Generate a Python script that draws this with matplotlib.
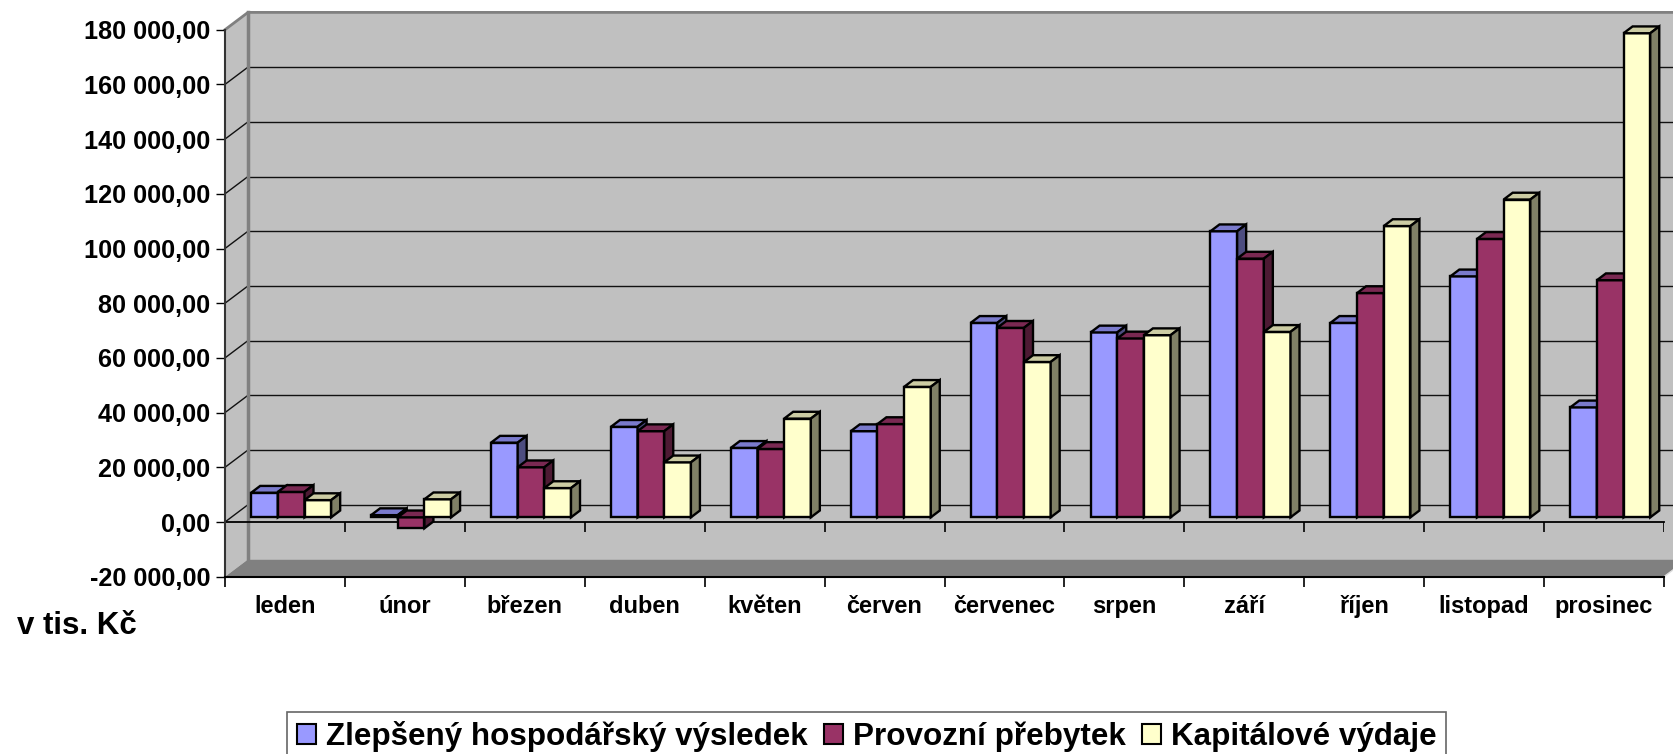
import matplotlib
matplotlib.use("Agg")
import matplotlib.pyplot as plt
from matplotlib.patches import Polygon, Patch
from matplotlib.ticker import FuncFormatter
import matplotlib.colors as mcolors

plt.rcParams['font.family'] = ['Liberation Sans', 'DejaVu Sans']
plt.rcParams['font.weight'] = 'bold'

# ---------------- data ----------------
months = ['leden', 'únor', 'březen', 'duben', 'květen', 'červen', 'červenec',
          'srpen', 'září', 'říjen', 'listopad', 'prosinec']
series_names = ['Zlepšený hospodářský výsledek', 'Provozní přebytek', 'Kapitálové výdaje']
zlepseny_hv = [9000, 800, 27300, 33100, 25400, 31500, 71100, 67600, 104600, 71100, 88100, 40200]
provozni_prebytek = [9300, -4000, 18300, 31500, 25000, 34100, 69300, 65400, 94600, 82000, 101800, 86700]
kapitalove_vydaje = [6300, 6600, 10700, 20100, 36100, 47700, 56800, 66600, 67800, 106500, 116200, 177000]
y_ticks = list(range(-20000, 180001, 20000))
y_label = 'v tis. Kč'
colors = ['#9999FF', '#993366', '#FFFFCC']

series = [zlepseny_hv, provozni_prebytek, kapitalove_vydaje]

# ---------------- layout ----------------
W, H = 1673, 754
fig = plt.figure(figsize=(W / 100, H / 100), dpi=100)
x_px0, x_px1 = 225.0, 1664.0
y_px_top, y_px_bot = 29.7, 576.7
ax = fig.add_axes([x_px0 / W, 1 - y_px_bot / H, (x_px1 - x_px0) / W, (y_px_bot - y_px_top) / H])
ymin, ymax = y_ticks[0], y_ticks[-1]
n = len(months)
ax.set_xlim(0, n)
ax.set_ylim(ymin, ymax)
ax.set_facecolor('none')

px_x = n / (x_px1 - x_px0)            # category units per pixel
px_y = (ymax - ymin) / (y_px_bot - y_px_top)  # value units per pixel

# wall depth
DX = 23 * px_x
DY = 17.3 * px_y
# bar plane
f = 0.27
BX, BY = f * DX, f * DY
# bar depth
ddx, ddy = 9 * px_x, 6.8 * px_y
bw = 0.2224
g0 = (1 - 3 * bw) / 2

wall_c = '#C0C0C0'
floor_c = '#808080'
edge_gray = '#808080'

# back wall
ax.add_patch(Polygon([(DX, ymin + DY), (n + DX, ymin + DY), (n + DX, ymax + DY), (DX, ymax + DY)],
                     closed=True, facecolor=wall_c, edgecolor='none', zorder=0, clip_on=False))
# side wall
ax.add_patch(Polygon([(0, ymin), (DX, ymin + DY), (DX, ymax + DY), (0, ymax)],
                     closed=True, facecolor=wall_c, edgecolor='none', zorder=0, clip_on=False))
# floor
ax.add_patch(Polygon([(0, ymin), (n, ymin), (n + DX, ymin + DY), (DX, ymin + DY)],
                     closed=True, facecolor=floor_c, edgecolor='none', zorder=0.5, clip_on=False))
ax.plot([n, n + DX], [ymin, ymin + DY], color='#E0E0E0', lw=1, zorder=0.6, clip_on=False)

# gridlines
for v in y_ticks[1:-1]:
    ax.plot([DX, n + DX], [v + DY, v + DY], color='#111111', lw=1.0, zorder=1, clip_on=False)
    ax.plot([0, DX], [v, v + DY], color='#111111', lw=1.0, zorder=1, clip_on=False)
# wall edges
ax.plot([0, DX, n + DX], [ymax, ymax + DY, ymax + DY], color=edge_gray, lw=2, zorder=1.2, clip_on=False)
ax.plot([DX, DX], [ymin + DY, ymax + DY], color=edge_gray, lw=2.5, zorder=1.2, clip_on=False)

# zero line in front plane with ticks
tick_len = 9.7 * px_y
ax.plot([0, n], [0, 0], color='black', lw=1.3, zorder=2, clip_on=False)
ax.vlines(range(n + 1), -tick_len, 0, color='black', lw=1.2, zorder=2)


def shade(c, k):
    r, g, b = mcolors.to_rgb(c)
    return (r * k, g * k, b * k)


z = 3
for i in range(n):
    for s, vals in enumerate(series):
        v = vals[i]
        c = colors[s]
        x0 = i + g0 + s * bw + BX
        x1 = x0 + bw
        lo = min(v, 0) + BY
        hi = max(v, 0) + BY
        ax.bar(x0, v, bottom=BY, width=bw, align='edge', color=c, edgecolor='black',
               linewidth=1.7, zorder=z, clip_on=False)
        ax.add_patch(Polygon([(x0, hi), (x1, hi), (x1 + ddx, hi + ddy), (x0 + ddx, hi + ddy)],
                             closed=True, facecolor=shade(c, 0.8), edgecolor='black',
                             linewidth=1.7, zorder=z + 0.1, clip_on=False, joinstyle='miter'))
        ax.add_patch(Polygon([(x1, lo), (x1, hi), (x1 + ddx, hi + ddy), (x1 + ddx, lo + ddy)],
                             closed=True, facecolor=shade(c, 0.5), edgecolor='black',
                             linewidth=1.7, zorder=z + 0.2, clip_on=False, joinstyle='miter'))
        z += 0.5

# axes / ticks
for sp in ['top', 'right']:
    ax.spines[sp].set_visible(False)
ax.spines['left'].set_color('#333333')
ax.spines['left'].set_linewidth(1.5)
ax.spines['bottom'].set_color('black')
ax.spines['bottom'].set_linewidth(1.5)
ax.spines['left'].set_zorder(2)
ax.spines['bottom'].set_zorder(2)


def fmt(v, pos=None):
    s = f"{v:,.2f}"
    return s.replace(',', ' ').replace('.', ',')


ax.set_yticks(y_ticks)
ax.yaxis.set_major_formatter(FuncFormatter(fmt))
ax.tick_params(axis='y', direction='out', length=6.8, width=1, pad=3.8,
               labelsize=18.2, colors='black')
for t in ax.get_yticklabels():
    t.set_fontweight('bold')

ax.set_xticks([i + 0.5 for i in range(n)])
ax.set_xticklabels(months, fontsize=17, fontweight='bold')
ax.set_xticks(range(n + 1), minor=True)
ax.tick_params(axis='x', which='major', length=0, pad=13.5)
ax.tick_params(axis='x', which='minor', direction='out', length=7.2, width=1.2)

fig.text(17 / W, 1 - 634 / H, y_label, fontsize=22.5, fontweight='bold', va='baseline', ha='left')

handles = [Patch(facecolor=c, edgecolor='black', linewidth=1.5) for c in colors]
leg = fig.legend(handles, series_names, ncol=3, loc='upper left',
                 bbox_to_anchor=(287.3 / W, 1 - 711.7 / H), frameon=True, fancybox=False,
                 prop={'size': 22.6, 'weight': 'bold'}, handlelength=0.6, handleheight=0.6,
                 handletextpad=0.34, columnspacing=0.5, borderpad=0.3, borderaxespad=0)
leg.get_frame().set_edgecolor('#404040')
leg.get_frame().set_linewidth(1.2)

fig.savefig('out.png', dpi=100)
